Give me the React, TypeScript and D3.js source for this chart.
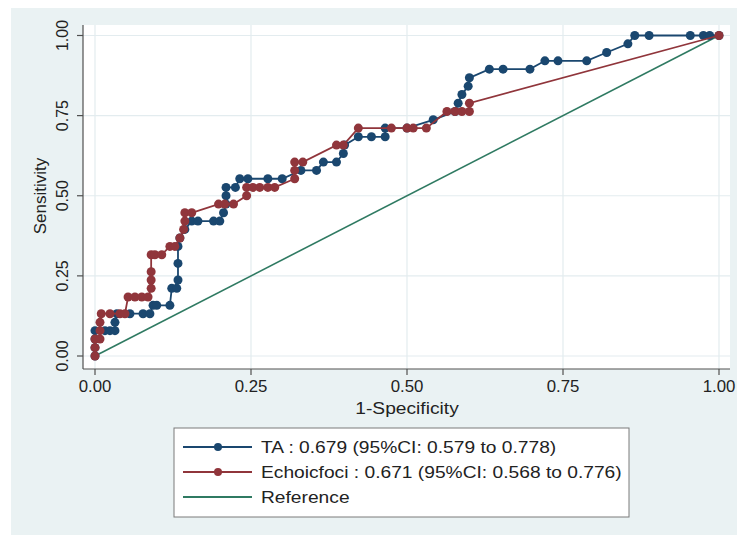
import React from "react";
import * as d3 from "d3";

// ---- data ----
const TA_FPR = [0, 0, 0, 0, 0.016, 0.024, 0.032, 0.032, 0.035, 0.056, 0.077, 0.088, 0.093, 0.099, 0.12, 0.123, 0.131, 0.133, 0.133, 0.133, 0.136, 0.144, 0.155, 0.165, 0.19, 0.2, 0.206, 0.21, 0.21, 0.21, 0.225, 0.232, 0.245, 0.277, 0.3, 0.33, 0.355, 0.366, 0.387, 0.398, 0.4, 0.422, 0.443, 0.465, 0.465, 0.5, 0.542, 0.577, 0.582, 0.588, 0.598, 0.6, 0.632, 0.654, 0.697, 0.721, 0.742, 0.788, 0.82, 0.854, 0.865, 0.888, 0.954, 0.975, 0.985, 1];
const TA_TPR = [0, 0.026, 0.053, 0.079, 0.079, 0.079, 0.079, 0.105, 0.132, 0.132, 0.132, 0.132, 0.158, 0.158, 0.158, 0.211, 0.211, 0.237, 0.289, 0.342, 0.368, 0.395, 0.421, 0.421, 0.421, 0.421, 0.447, 0.474, 0.5, 0.526, 0.526, 0.553, 0.553, 0.553, 0.553, 0.579, 0.579, 0.605, 0.605, 0.632, 0.658, 0.684, 0.684, 0.684, 0.711, 0.711, 0.737, 0.763, 0.789, 0.816, 0.842, 0.868, 0.895, 0.895, 0.895, 0.921, 0.921, 0.921, 0.947, 0.974, 1, 1, 1, 1, 1, 1];

const ECHO_FPR = [0, 0, 0, 0.008, 0.008, 0.008, 0.01, 0.024, 0.04, 0.048, 0.053, 0.064, 0.075, 0.085, 0.09, 0.09, 0.09, 0.09, 0.096, 0.107, 0.12, 0.128, 0.136, 0.142, 0.144, 0.144, 0.155, 0.198, 0.208, 0.222, 0.243, 0.243, 0.253, 0.264, 0.277, 0.288, 0.32, 0.32, 0.32, 0.333, 0.387, 0.398, 0.422, 0.475, 0.5, 0.51, 0.531, 0.564, 0.577, 0.588, 0.6, 0.6, 1];
const ECHO_TPR = [0, 0.026, 0.053, 0.053, 0.079, 0.105, 0.132, 0.132, 0.132, 0.132, 0.184, 0.184, 0.184, 0.184, 0.211, 0.237, 0.263, 0.316, 0.316, 0.316, 0.342, 0.342, 0.368, 0.395, 0.421, 0.447, 0.447, 0.474, 0.474, 0.474, 0.5, 0.526, 0.526, 0.526, 0.526, 0.526, 0.553, 0.579, 0.605, 0.605, 0.658, 0.658, 0.711, 0.711, 0.711, 0.711, 0.711, 0.763, 0.763, 0.763, 0.763, 0.789, 1];

const REF_X = [0, 1];
const REF_Y = [0, 1];

const TICKS = [0, 0.25, 0.5, 0.75, 1];
const TICK_LABELS = ["0.00", "0.25", "0.50", "0.75", "1.00"];

const LEGEND_LABELS = [
  "TA : 0.679 (95%CI: 0.579 to 0.778)",
  "Echoicfoci : 0.671 (95%CI: 0.568 to 0.776)",
  "Reference",
];

const NAVY = "#1a476f";
const MAROON = "#90353b";
const GREEN = "#2f7a62";
const FONT = "'Liberation Sans', Arial, sans-serif";

export default function App() {
  const W = 737, H = 535;
  const x = d3.scaleLinear().domain([0, 1]).range([95, 719]);
  const y = d3.scaleLinear().domain([0, 1]).range([356, 35.5]);
  const plotL = 83, plotR = 730, plotT = 25, plotB = 369;

  const line = d3.line<[number, number]>().x(d => x(d[0])).y(d => y(d[1]));
  const ta: [number, number][] = TA_FPR.map((v, i) => [v, TA_TPR[i]]);
  const echo: [number, number][] = ECHO_FPR.map((v, i) => [v, ECHO_TPR[i]]);
  const ref: [number, number][] = REF_X.map((v, i) => [v, REF_Y[i]]);

  const legendColors = [NAVY, MAROON, GREEN];
  const legendMarker = [true, true, false];
  const hStretch = 1.13;

  return (
    <svg width={W} height={H} style={{ display: "block", position: "absolute", left: 0, top: 0 }}>
      <rect x={11} y={8} width={W - 11} height={H - 8} fill="#eaf2f3" />
      <rect x={plotL} y={plotT} width={plotR - plotL} height={plotB - plotT} fill="#ffffff" />
      {/* grid */}
      {TICKS.map((t, i) => (
        <line key={"gy" + i} x1={plotL} x2={plotR} y1={y(t)} y2={y(t)} stroke="#e3ecef" strokeWidth={1.2} />
      ))}
      {TICKS.map((t, i) => (
        <line key={"gx" + i} x1={x(t)} x2={x(t)} y1={plotT} y2={plotB} stroke="#e3ecef" strokeWidth={1.2} />
      ))}
      {/* axes */}
      <line x1={plotL} x2={plotL} y1={plotT} y2={plotB} stroke="#505050" strokeWidth={1.2} />
      <line x1={plotL} x2={plotR} y1={plotB} y2={plotB} stroke="#505050" strokeWidth={1.2} />
      {TICKS.map((t, i) => (
        <g key={"ty" + i}>
          <line x1={plotL - 6} x2={plotL} y1={y(t)} y2={y(t)} stroke="#505050" strokeWidth={1.2} />
          <text transform={`translate(68,${y(t)}) rotate(-90)`} textAnchor="middle" fontFamily={FONT} fontSize={16} fill="#222">
            {TICK_LABELS[i]}
          </text>
        </g>
      ))}
      {TICKS.map((t, i) => (
        <g key={"tx" + i}>
          <line x1={x(t)} x2={x(t)} y1={plotB} y2={plotB + 6} stroke="#505050" strokeWidth={1.2} />
          <text transform={`translate(${x(t)},392) scale(1.05,1)`} textAnchor="middle" fontFamily={FONT} fontSize={16} fill="#222">
            {TICK_LABELS[i]}
          </text>
        </g>
      ))}
      <text transform={`translate(407,414) scale(${hStretch},1)`} textAnchor="middle" fontFamily={FONT} fontSize={17} fill="#222">1-Specificity</text>
      <text transform="translate(46,196) rotate(-90)" textAnchor="middle" fontFamily={FONT} fontSize={17} fill="#222">Sensitivity</text>

      {/* reference */}
      <path d={line(ref) || ""} fill="none" stroke={GREEN} strokeWidth={1.6} />
      {/* TA */}
      <path d={line(ta) || ""} fill="none" stroke={NAVY} strokeWidth={1.8} />
      {ta.map((d, i) => (
        <circle key={"ta" + i} cx={x(d[0])} cy={y(d[1])} r={4.5} fill={NAVY} />
      ))}
      {/* Echoicfoci */}
      <path d={line(echo) || ""} fill="none" stroke={MAROON} strokeWidth={1.8} />
      {echo.map((d, i) => (
        <circle key={"ec" + i} cx={x(d[0])} cy={y(d[1])} r={4.5} fill={MAROON} />
      ))}

      {/* legend */}
      <rect x={174} y={428} width={455} height={89} fill="#ffffff" stroke="#7a7a7a" strokeWidth={1} />
      {LEGEND_LABELS.map((lab, i) => {
        const ly = 447 + i * 25;
        return (
          <g key={"lg" + i}>
            <line x1={183} x2={252} y1={ly} y2={ly} stroke={legendColors[i]} strokeWidth={1.8} />
            {legendMarker[i] && <circle cx={218} cy={ly} r={4} fill={legendColors[i]} />}
            <text transform={`translate(261,${ly}) scale(${hStretch},1)`} dominantBaseline="central" fontFamily={FONT} fontSize={17} fill="#222">{lab}</text>
          </g>
        );
      })}
    </svg>
  );
}
